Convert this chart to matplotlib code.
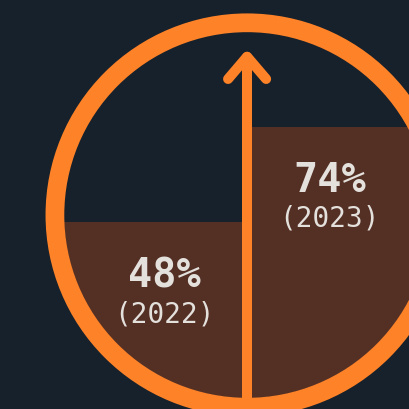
import numpy as np
import matplotlib.pyplot as plt
from matplotlib.patches import Circle

# data
years = ["2022", "2023"]
shares = [48, 74]  # percent

bg = "#16212b"
orange = "#fe8228"
brown = "#532f24"
txt = "#e4e0dc"

fig = plt.figure(figsize=(4.1, 4.1), dpi=100, facecolor=bg)
ax = fig.add_axes([0, 0, 1, 1])
ax.set_facecolor(bg)
# unit circle = inner edge of the ring, centre at (0, 0)
ax.set_xlim(-1.35, 0.89)
ax.set_ylim(-1.06, 1.18)
ax.axis("off")

clip = Circle((0, 0), 1.0, transform=ax.transData)
xs = [-0.5, 0.5]
heights = [2 * v / 100 for v in shares]
bars = ax.bar(xs, heights, width=1.0, bottom=-1, color=brown, zorder=1)
for b in bars:
    b.set_clip_path(clip)

for x, v, h, yr in zip(xs, shares, heights, years):
    top = -1 + h
    ax.text(x * 0.9, top - 0.35, f"{v}%", ha="center", va="baseline",
            color=txt, fontsize=29, fontweight="bold",
            family="DejaVu Sans Mono", zorder=5)
    ax.text(x * 0.9, top - 0.54, f"({yr})", ha="center", va="baseline",
            color=txt, fontsize=20, family="DejaVu Sans Mono", zorder=5)

ring = Circle((0, 0), 1.05, fill=False, edgecolor=orange, linewidth=13.5, zorder=3)
ax.add_patch(ring)

# arrow
ax.plot([0, 0], [-1.2, 0.865], color=orange, lw=7.2,
        solid_capstyle="round", zorder=4)
ax.plot([-0.104, 0, 0.104], [0.743, 0.865, 0.743], color=orange, lw=7.2,
        solid_capstyle="round", solid_joinstyle="round", zorder=4)

fig.savefig("out.png", dpi=100, facecolor=bg)
